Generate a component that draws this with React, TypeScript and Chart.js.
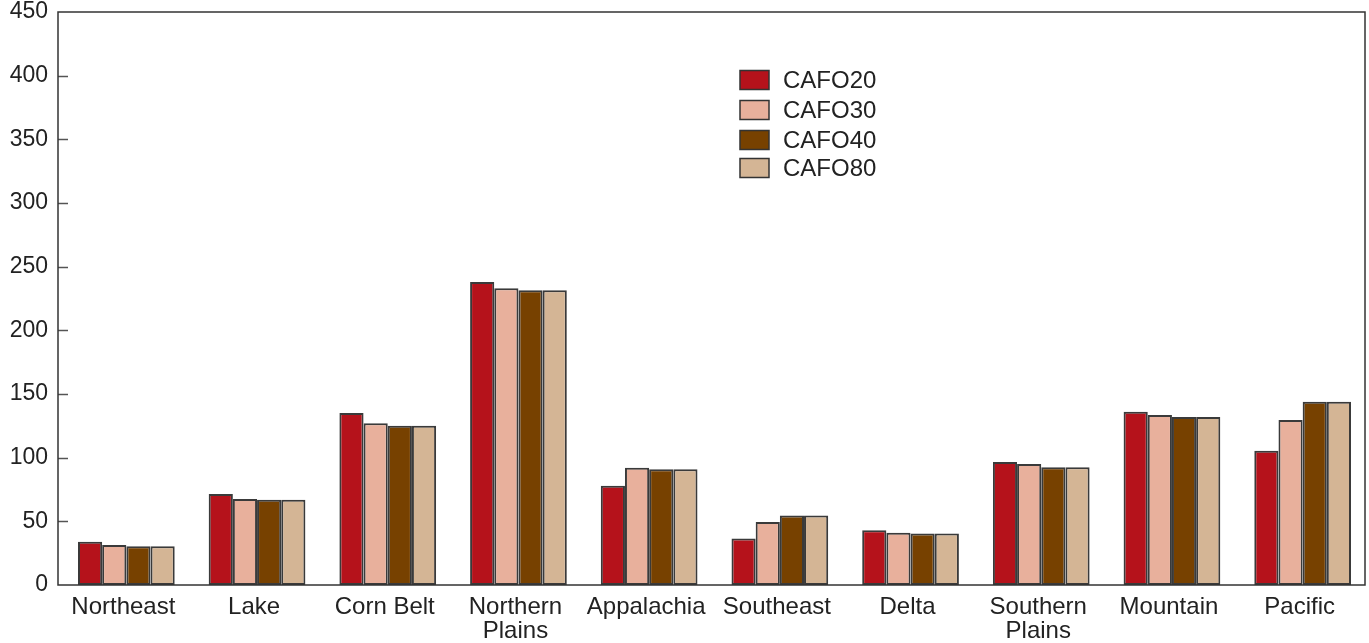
import React, { useEffect, useRef } from "react";
import { Chart, registerables } from "chart.js";

Chart.register(...registerables);

const categories: (string | string[])[] = [
  "Northeast",
  "Lake",
  "Corn Belt",
  ["Northern", "Plains"],
  "Appalachia",
  "Southeast",
  "Delta",
  ["Southern", "Plains"],
  "Mountain",
  "Pacific",
];
const cafo20 = [34, 71.5, 135, 238, 78, 36.5, 43, 96.5, 136, 105.5];
const cafo30 = [31.5, 67.5, 127, 233, 92, 49.5, 41, 95, 133.5, 129.5];
const cafo40 = [30.5, 67, 125, 231.5, 91, 54.5, 40.5, 92.5, 132, 144];
const cafo80 = [30.5, 67, 125, 231.5, 91, 54.5, 40.5, 92.5, 132, 144];
const seriesNames = ["CAFO20", "CAFO30", "CAFO40", "CAFO80"];
const seriesColors = ["#B5121B", "#E8B09C", "#774100", "#D4B595"];
const yMax = 450;
const yStep = 50;

const FONT = "'Liberation Sans', Arial, Helvetica, sans-serif";

const shiftPlugin = {
  id: "shiftPlugin",
  beforeDatasetsDraw(chart: any) {
    chart.ctx.save();
    chart.ctx.translate(3, 0);
  },
  afterDatasetsDraw(chart: any) {
    chart.ctx.restore();
  },
};

const framePlugin = {
  id: "framePlugin",
  afterDraw(chart: any) {
    const { ctx, chartArea } = chart;
    const { left, right, top, bottom } = chartArea;
    const y = chart.scales.y;
    ctx.save();
    ctx.strokeStyle = "#555";
    ctx.lineWidth = 1.5;
    y.ticks.forEach((t: any) => {
      const py = Math.round(y.getPixelForValue(t.value)) + 0.5;
      if (t.value <= 0 || t.value >= yMax) return;
      ctx.beginPath();
      ctx.moveTo(left, py);
      ctx.lineTo(left + 10, py);
      ctx.stroke();
    });
    ctx.strokeStyle = "#333";
    ctx.lineWidth = 1.5;
    ctx.strokeRect(left, top, right - left, bottom - top);
    const lx = left + (740 - 58);
    const rows = [80, 110, 140, 168];
    ctx.font = "24px " + FONT;
    ctx.textBaseline = "middle";
    ctx.textAlign = "left";
    chart.data.datasets.forEach((ds: any, i: number) => {
      const cy = rows[i];
      ctx.fillStyle = ds.backgroundColor;
      ctx.fillRect(lx, cy - 9.5, 29, 19);
      ctx.strokeStyle = "#333";
      ctx.lineWidth = 1.5;
      ctx.strokeRect(lx, cy - 9.5, 29, 19);
      ctx.fillStyle = "#222";
      ctx.fillText(ds.label, lx + 43, cy + 1);
    });
    ctx.restore();
  },
};

export default function App() {
  const ref = useRef<HTMLCanvasElement | null>(null);
  useEffect(() => {
    if (!ref.current) return;
    const all = [cafo20, cafo30, cafo40, cafo80];
    const chart = new Chart(ref.current, {
      type: "bar",
      data: {
        labels: categories,
        datasets: all.map((d, i) => ({
          label: seriesNames[i],
          data: d,
          backgroundColor: seriesColors[i],
          borderColor: "#3a3a3a",
          borderWidth: 2,
          borderSkipped: false,
          categoryPercentage: 0.74,
          barPercentage: 1,
        })),
      },
      options: {
        responsive: false,
        animation: false,
        maintainAspectRatio: false,
        layout: { padding: { top: 12, right: 4, left: 0, bottom: 0 } },
        plugins: {
          legend: { display: false },
          tooltip: { enabled: false },
        },
        scales: {
          x: {
            grid: { display: false, drawTicks: false },
            border: { display: false },
            ticks: {
              color: "#222",
              font: { family: FONT, size: 24, lineHeight: 1.0 },
              padding: 10,
              maxRotation: 0,
              autoSkip: false,
            },
            afterFit: (s: any) => {
              s.height = 58;
              s.paddingLeft = 0;
              s.paddingRight = 0;
            },
          },
          y: {
            min: 0,
            max: yMax,
            grid: { display: false, drawTicks: false },
            border: { display: false },
            ticks: {
              stepSize: yStep,
              color: "#222",
              font: { family: FONT, size: 23 },
              padding: 10,
            },
            afterFit: (s: any) => {
              s.width = 58;
              s.paddingTop = 0;
              s.paddingBottom = 0;
            },
          },
        },
      },
      plugins: [shiftPlugin, framePlugin],
    });
    return () => chart.destroy();
  }, []);
  return (
    <div style={{ position: "fixed", left: 0, top: 0, width: 1369, height: 643, background: "#fff" }}>
      <canvas ref={ref} width={1369} height={643} style={{ width: 1369, height: 643, display: "block" }} />
    </div>
  );
}
